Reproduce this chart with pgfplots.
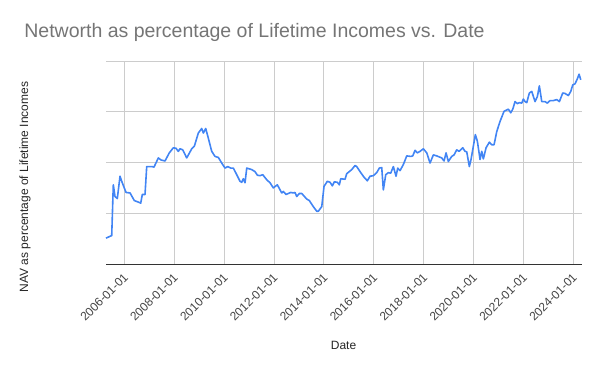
\documentclass[border=0pt]{standalone}
\usepackage{pgfplots}
\pgfplotsset{compat=1.18}
\usepackage{fontspec}
\setmainfont{Liberation Sans}
\definecolor{lineblue}{HTML}{4285F4}
\definecolor{titlegray}{HTML}{757575}
\definecolor{gridgray}{HTML}{CCCCCC}
\definecolor{labgray}{HTML}{444444}
\definecolor{axisdark}{HTML}{333333}
\begin{document}
\begin{tikzpicture}
\begin{axis}[
  scale only axis,
  width=476pt, height=203pt,
  xmin=2005.266, xmax=2024.35,
  ymin=0, ymax=4,
  axis x line*=bottom,
  axis y line*=left,
  x axis line style={draw=axisdark, line width=1pt, -},
  y axis line style={draw=none},
  xtick={2006,2008,2010,2012,2014,2016,2018,2020,2022,2024},
  xticklabels={2006-01-01,2008-01-01,2010-01-01,2012-01-01,2014-01-01,2016-01-01,2018-01-01,2020-01-01,2022-01-01,2024-01-01},
  ytick={0,1,2,3,4},
  yticklabels={},
  major tick length=0pt,
  grid=major,
  major grid style={draw=gridgray, line width=0.8pt},
  xticklabel style={xshift=4pt, yshift=-9pt, rotate=45, anchor=east, font=\fontsize{12}{14}\selectfont, text=labgray},
  clip=false,
]
\addplot[lineblue, line width=1.6pt, line join=round] coordinates {
(2005.266,0.51) (2005.495,0.56) (2005.559,1.56) (2005.627,1.33) (2005.719,1.29)
(2005.828,1.73) (2005.896,1.63) (2006.068,1.41) (2006.229,1.40) (2006.401,1.25)
(2006.561,1.22) (2006.658,1.20) (2006.722,1.37) (2006.830,1.37) (2006.898,1.92)
(2007.099,1.92) (2007.191,1.91) (2007.363,2.09) (2007.472,2.05) (2007.632,2.03)
(2007.804,2.19) (2007.965,2.29) (2008.073,2.28) (2008.165,2.22) (2008.233,2.27)
(2008.342,2.25) (2008.502,2.09) (2008.702,2.27) (2008.807,2.32) (2008.967,2.58)
(2009.103,2.67) (2009.168,2.58) (2009.264,2.67) (2009.368,2.48) (2009.504,2.22)
(2009.637,2.12) (2009.769,2.10) (2009.905,1.99) (2010.038,1.89) (2010.146,1.92)
(2010.266,1.89) (2010.370,1.89) (2010.507,1.76) (2010.639,1.63) (2010.707,1.61)
(2010.771,1.68) (2010.840,1.60) (2010.908,1.89) (2011.108,1.86) (2011.241,1.82)
(2011.333,1.75) (2011.441,1.74) (2011.549,1.76) (2011.710,1.66) (2011.842,1.60)
(2011.974,1.50) (2012.135,1.56) (2012.311,1.40) (2012.375,1.43) (2012.484,1.37)
(2012.672,1.41) (2012.776,1.40) (2012.844,1.41) (2012.913,1.33) (2013.017,1.39)
(2013.113,1.39) (2013.313,1.28) (2013.418,1.25) (2013.578,1.13) (2013.715,1.04)
(2013.779,1.04) (2013.915,1.13) (2014.007,1.53) (2014.140,1.63) (2014.248,1.61)
(2014.340,1.54) (2014.420,1.62) (2014.540,1.61) (2014.621,1.56) (2014.677,1.68)
(2014.849,1.67) (2014.917,1.78) (2015.118,1.86) (2015.250,1.94) (2015.318,1.92)
(2015.451,1.82) (2015.611,1.71) (2015.743,1.64) (2015.852,1.73) (2015.984,1.74)
(2016.120,1.80) (2016.225,1.89) (2016.321,1.90) (2016.385,1.46) (2016.481,1.76)
(2016.585,1.80) (2016.681,1.79) (2016.786,1.92) (2016.894,1.73) (2016.962,1.89)
(2017.054,1.84) (2017.187,1.96) (2017.323,2.13) (2017.484,2.12) (2017.564,2.13)
(2017.656,2.24) (2017.748,2.19) (2017.857,2.22) (2017.989,2.27) (2018.125,2.19)
(2018.257,1.99) (2018.390,2.15) (2018.526,2.13) (2018.726,2.09) (2018.819,2.03)
(2018.899,2.19) (2018.991,2.02) (2019.127,2.12) (2019.220,2.15) (2019.328,2.25)
(2019.420,2.22) (2019.568,2.29) (2019.661,2.22) (2019.729,2.21) (2019.833,1.92)
(2019.901,2.06) (2020.074,2.55) (2020.154,2.42) (2020.262,2.06) (2020.330,2.22)
(2020.394,2.07) (2020.503,2.29) (2020.635,2.40) (2020.731,2.35) (2020.824,2.35)
(2020.932,2.61) (2021.064,2.81) (2021.225,3.01) (2021.397,3.05) (2021.493,2.98)
(2021.573,3.05) (2021.665,3.20) (2021.758,3.16) (2021.838,3.18) (2021.934,3.17)
(2021.998,3.25) (2022.067,3.20) (2022.135,3.18) (2022.239,3.37) (2022.335,3.40)
(2022.467,3.20) (2022.560,3.30) (2022.640,3.51) (2022.736,3.20) (2022.868,3.20)
(2022.961,3.17) (2023.069,3.22) (2023.201,3.22) (2023.338,3.24) (2023.442,3.20)
(2023.578,3.37) (2023.671,3.36) (2023.803,3.32) (2023.899,3.40) (2023.979,3.53)
(2024.071,3.55) (2024.164,3.65) (2024.232,3.74) (2024.300,3.63)
};
\node[anchor=base west, text=titlegray, font=\fontsize{19.5}{22}\selectfont] at (axis description cs:-0.1790,1.1182) {Networth as percentage of Lifetime Incomes vs. Date};
\node[rotate=90, text=black!85, font=\fontsize{12}{14}\selectfont] at (axis description cs:-0.170,0.379) {NAV as percentage of Lifetime Incomes};
\node[text=black!85, font=\fontsize{12}{14}\selectfont] at (axis description cs:0.499,-0.399) {Date};
\path (axis description cs:-0.2227,1.3005) rectangle (axis description cs:1.0378,-0.5271);
\end{axis}
\end{tikzpicture}
\end{document}
